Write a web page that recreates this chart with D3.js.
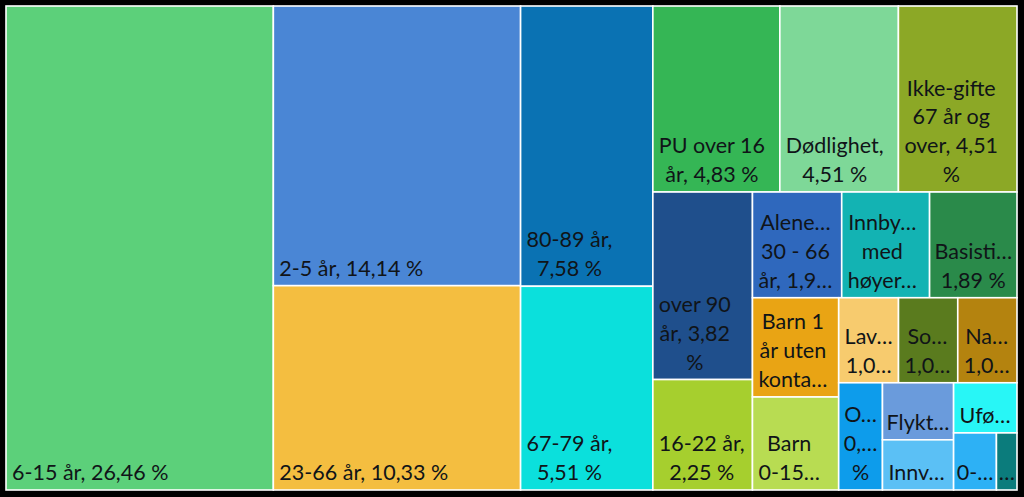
<!DOCTYPE html>
<html>
<head>
<meta charset="utf-8">
<script src="https://cdn.jsdelivr.net/npm/d3@7"></script>
<style>
  html, body { margin: 0; padding: 0; background: #000; }
  svg { display: block; }
  text { font-family: Lato, "Open Sans", sans-serif; fill: #101418; }
</style>
</head>
<body>
<svg id="chart" width="1024" height="497"></svg>
<script>
// ---- data ----
const categories = [
  "6-15 år", "2-5 år", "23-66 år", "80-89 år", "67-79 år",
  "PU over 16 år", "Dødlighet", "Ikke-gifte 67 år og over", "over 90 år", "16-22 år",
  "Alene…", "Innby…", "Basisti…", "Barn 1 år uten konta…", "Barn 0-15…",
  "Lav…", "So…", "Na…", "O…", "Flykt…", "Innv…", "Ufø…", "0-…", "…"
];
const values = [
  26.46, 14.14, 10.33, 7.58, 5.51,
  4.83, 4.51, 4.51, 3.82, 2.25,
  1.93, 1.90, 1.89, 1.75, 1.64,
  1.04, 1.03, 1.03, 0.96, 0.83, 0.73, 0.65, 0.50, 0.24
];
const labelLines = [
  ["6-15 år, 26,46 %"], ["2-5 år, 14,14 %"], ["23-66 år, 10,33 %"],
  ["80-89 år,", "7,58 %"], ["67-79 år,", "5,51 %"],
  ["PU over 16", "år, 4,83 %"], ["Dødlighet,", "4,51 %"],
  ["Ikke-gifte", "67 år og", "over, 4,51", "%"],
  ["over 90", "år, 3,82", "%"], ["16-22 år,", "2,25 %"],
  ["Alene…", "30 - 66", "år, 1,9…"], ["Innby…", "med", "høyer…"],
  ["Basisti…", "1,89 %"], ["Barn 1", "år uten", "konta…"], ["Barn", "0-15…"],
  ["Lav…", "1,0…"], ["So…", "1,0…"], ["Na…", "1,0…"],
  ["O…", "0,…", "%"], ["Flykt…"], ["Innv…"], ["Ufø…"], ["0-…"], ["…"]
];
const colors = [
  "#5cd07a", "#4a86d5", "#f4be40", "#0a72b3", "#0be0dc",
  "#35b655", "#7ed898", "#8ca826", "#1f4f8c", "#a6cf2e",
  "#2f68bd", "#13b3b3", "#2a8a4a", "#e9a414", "#b8dc52",
  "#f7cb6e", "#5a7b1e", "#b4830f", "#0d9ceb", "#6a9bdc",
  "#5bc0f5", "#28f6f6", "#2db1f5", "#0b7c7c"
];
// strip grouping (as the spreadsheet treemap lays them out): x = side by side, y = stacked
const groups = {dir: "x", children: [0, {dir: "y", children: [1, 2]}, {dir: "y", children: [3, 4]},
  {dir: "y", children: [{dir: "x", children: [5, 6, 7]},
    {dir: "x", children: [{dir: "y", children: [8, 9]},
      {dir: "y", children: [{dir: "x", children: [10, 11, 12]},
        {dir: "x", children: [{dir: "y", children: [13, 14]},
          {dir: "y", children: [{dir: "x", children: [15, 16, 17]},
            {dir: "x", children: [18, {dir: "y", children: [19, 20]},
              {dir: "y", children: [21, {dir: "x", children: [22, 23]}]}]}]}]}]}]}]}]};

// ---- build ----
function build(g) {
  if (typeof g === "number") return {idx: g, name: categories[g], value: values[g]};
  return {dir: g.dir, children: g.children.map(build)};
}
const root = d3.hierarchy(build(groups)).sum(d => d.value || 0);

const X0 = 6, Y0 = 6, X1 = 1017, Y1 = 490;
d3.treemap()
  .size([X1 - X0, Y1 - Y0])
  .tile((node, x0, y0, x1, y1) => {
    if (node.data.dir === "x") d3.treemapDice(node, x0, y0, x1, y1);
    else d3.treemapSlice(node, x0, y0, x1, y1);
  })(root);

const svg = d3.select("#chart");
const g = svg.append("g").attr("transform", `translate(${X0},${Y0})`);
const leaves = root.leaves();

const cell = g.selectAll("g.cell").data(leaves).join("g").attr("class", "cell");
cell.append("rect")
  .attr("x", d => d.x0).attr("y", d => d.y0)
  .attr("width", d => d.x1 - d.x0).attr("height", d => d.y1 - d.y0)
  .attr("fill", d => colors[d.data.idx])
  .attr("stroke", "#fff").attr("stroke-width", 1.6);

const fs = 21.5, lh = 28.8, padL = 6, padB = 10;
cell.each(function(d) {
  const lines = labelLines[d.data.idx];
  const sel = d3.select(this);
  const ts = lines.map((t, i) => sel.append("text")
    .attr("font-size", fs)
    .attr("y", d.y1 - padB - (lines.length - 1 - i) * lh)
    .text(t));
  const widths = ts.map(t => t.node().getComputedTextLength());
  const bw = d3.max(widths);
  const avail = d.x1 - d.x0 - 2 * padL;
  const left = bw > avail ? d.x0 + (d.x1 - d.x0 - bw) / 2 : d.x0 + padL;
  ts.forEach((t, i) => t.attr("x", left + (bw - widths[i]) / 2));
});
</script>
</body>
</html>
